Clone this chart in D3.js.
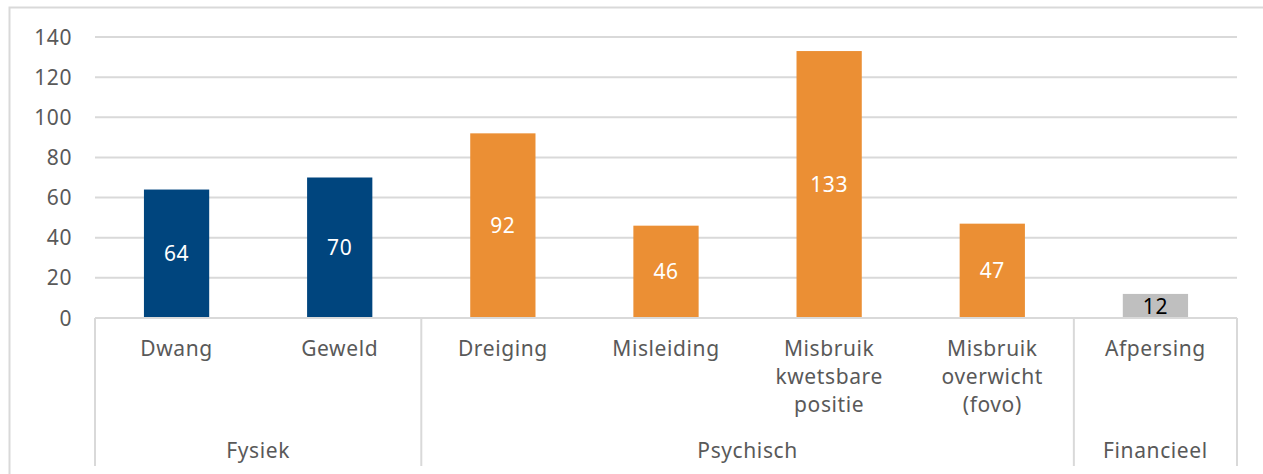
<!DOCTYPE html>
<html lang="nl">
<head>
<meta charset="UTF-8">
<title>Dwangmiddelen</title>
<script src="https://cdn.jsdelivr.net/npm/d3@7"></script>
<style>
  body { margin: 0; background: #fff; }
  svg text { font-family: "Noto Sans", sans-serif; font-size: 21px; letter-spacing: 0.6px; }
  .grid line { stroke: #d9d9d9; stroke-width: 2px; }
  .frame { fill: none; stroke: #d9d9d9; stroke-width: 2px; }
  .cat line { stroke: #d9d9d9; stroke-width: 2px; }
  .lbl { fill: #595959; }
</style>
</head>
<body>
<svg width="1263" height="474"></svg>
<script>
// data
var categories = [["Dwang"], ["Geweld"], ["Dreiging"], ["Misleiding"],
                  ["Misbruik", "kwetsbare", "positie"], ["Misbruik", "overwicht", "(fovo)"], ["Afpersing"]];
var values = [64, 70, 92, 46, 133, 47, 12];
var groups = ["Fysiek", "Fysiek", "Psychisch", "Psychisch", "Psychisch", "Psychisch", "Financieel"];
var groupNames = ["Fysiek", "Psychisch", "Financieel"];
var yTicks = [0, 20, 40, 60, 80, 100, 120, 140];

var colors = { Fysiek: "#00457e", Psychisch: "#eb8f34", Financieel: "#bfbfbf" };
var labelColors = { Fysiek: "#fff", Psychisch: "#fff", Financieel: "#000" };

var svg = d3.select("svg");

// chart border (only top/left visible in the picture)
svg.append("rect").attr("class", "frame")
  .attr("x", 9.5).attr("y", 7.5).attr("width", 1300).attr("height", 500);

var plotLeft = 95, plotRight = 1237, plotTop = 37, plotBottom = 318;

var x = d3.scaleBand().domain(d3.range(values.length))
  .range([plotLeft, plotRight]).paddingInner(0.6).paddingOuter(0.3);
var y = d3.scaleLinear().domain([0, 140]).range([plotBottom, plotTop]);

// gridlines
svg.append("g").attr("class", "grid")
  .selectAll("line").data(yTicks.filter(function(d) { return d > 0; }))
  .enter().append("line")
    .attr("x1", plotLeft).attr("x2", plotRight)
    .attr("y1", function(d) { return y(d); }).attr("y2", function(d) { return y(d); });

// y tick labels
svg.append("g").selectAll("text").data(yTicks).enter().append("text")
  .attr("class", "lbl")
  .attr("x", 72).attr("y", function(d) { return y(d); })
  .attr("dy", "0.36em").attr("text-anchor", "end")
  .text(function(d) { return d; });

// bars
svg.append("g").selectAll("rect").data(values).enter().append("rect")
  .attr("x", function(d, i) { return x(i); })
  .attr("width", x.bandwidth())
  .attr("y", function(d) { return y(d); })
  .attr("height", function(d) { return y(0) - y(d); })
  .attr("fill", function(d, i) { return colors[groups[i]]; });

// value labels in the middle of bars
svg.append("g").selectAll("text").data(values).enter().append("text")
  .attr("x", function(d, i) { return x(i) + x.bandwidth() / 2; })
  .attr("y", function(d) { return (y(d) + y(0)) / 2; })
  .attr("dy", "0.36em").attr("text-anchor", "middle")
  .attr("fill", function(d, i) { return labelColors[groups[i]]; })
  .text(function(d) { return d; });

// category axis with group separators
var cat = svg.append("g").attr("class", "cat");
cat.append("line").attr("x1", plotLeft).attr("x2", plotRight).attr("y1", plotBottom).attr("y2", plotBottom);

var bounds = [0];
groupNames.forEach(function(g) {
  bounds.push(bounds[bounds.length - 1] + groups.filter(function(d) { return d === g; }).length);
});
var edge = function(k) { return plotLeft + k * x.step(); };

cat.selectAll("line.sep").data(bounds).enter().append("line")
  .attr("class", "sep")
  .attr("x1", function(k) { return edge(k); }).attr("x2", function(k) { return edge(k); })
  .attr("y1", plotBottom).attr("y2", 466);

var catText = svg.append("g").selectAll("text").data(categories).enter().append("text")
  .attr("class", "lbl").attr("text-anchor", "middle")
  .attr("x", function(d, i) { return x(i) + x.bandwidth() / 2; })
  .attr("y", 348);
catText.selectAll("tspan").data(function(d) { return d; }).enter().append("tspan")
  .attr("x", function() { return d3.select(this.parentNode).attr("x"); })
  .attr("dy", function(d, j) { return j === 0 ? "0.36em" : "28px"; })
  .text(function(d) { return d; });

svg.append("g").selectAll("text").data(groupNames).enter().append("text")
  .attr("class", "lbl").attr("text-anchor", "middle")
  .attr("x", function(g, i) { return (edge(bounds[i]) + edge(bounds[i + 1])) / 2; })
  .attr("y", 450).attr("dy", "0.36em")
  .text(function(g) { return g; });
</script>
</body>
</html>
